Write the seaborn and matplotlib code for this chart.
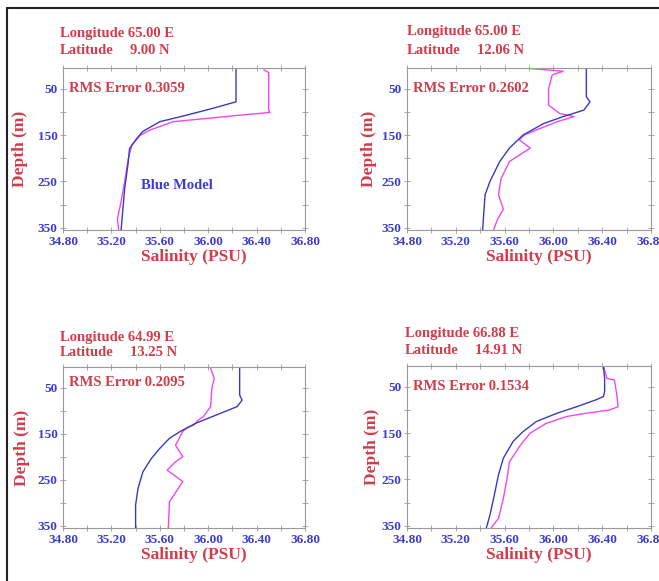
import numpy as np
import pandas as pd
import matplotlib
matplotlib.use('Agg')
import matplotlib.pyplot as plt
from matplotlib.lines import Line2D
from matplotlib.ticker import MultipleLocator, FixedLocator
import seaborn as sns

sns.set_theme(style='white')
plt.rcParams['font.family'] = ['Liberation Serif', 'DejaVu Serif']
plt.rcParams['font.weight'] = 'bold'

RED = '#d23c4b'
BLUE = '#3c3cd2'
MODEL = '#3a3abf'
OBS = '#f048f0'

# station info
lons = ['65.00 E', '65.00 E', '64.99 E', '66.88 E']
lats = ['9.00 N', '12.06 N', '13.25 N', '14.91 N']
rms = ['0.3059', '0.2602', '0.2095', '0.1534']

# model profiles (salinity, depth)
model_sal = [
    [36.23, 36.23, 36.04, 35.82, 35.60, 35.46, 35.41, 35.35, 35.34, 35.31, 35.28],
    [36.27, 36.27, 36.30, 36.25, 36.08, 35.92, 35.75, 35.64, 35.56, 35.48, 35.44, 35.43, 35.42],
    [36.26, 36.26, 36.28, 36.24, 36.07, 35.90, 35.77, 35.68, 35.60, 35.53, 35.46, 35.42, 35.40, 35.40],
    [36.41, 36.42, 36.42, 36.41, 36.35, 36.19, 36.03, 35.86, 35.75, 35.67, 35.59, 35.55, 35.51, 35.48, 35.45],
]
model_dep = [
    [5, 78, 92, 107, 121, 142, 157, 179, 207, 265, 355],
    [5, 67, 78, 96, 110, 125, 150, 178, 207, 250, 279, 315, 355],
    [5, 66, 77, 91, 109, 127, 145, 160, 182, 204, 233, 269, 305, 355],
    [5, 32, 60, 71, 78, 93, 107, 125, 147, 168, 204, 240, 291, 327, 355],
]

# observed profiles (salinity, depth)
obs_sal = [
    [36.46, 36.50, 36.50, 36.51, 36.26, 35.71, 35.52, 35.44, 35.37, 35.34, 35.31, 35.28, 35.25, 35.26],
    [35.59, 35.76, 36.08, 35.99, 35.96, 35.96, 36.05, 36.17, 36.03, 35.86, 35.76, 35.72, 35.81,
     35.64, 35.57, 35.55, 35.59, 35.54, 35.51],
    [36.02, 36.05, 36.03, 36.02, 35.96, 35.92, 35.88, 35.82, 35.79, 35.73, 35.79, 35.73, 35.66,
     35.79, 35.68, 35.67],
    [36.41, 36.44, 36.50, 36.52, 36.53, 36.46, 36.27, 36.11, 35.94, 35.81, 35.73, 35.64, 35.62,
     35.59, 35.55, 35.49],
]
obs_dep = [
    [9, 15, 96, 101, 107, 121, 139, 150, 171, 200, 250, 294, 330, 355],
    [5, 5, 12, 20, 50, 85, 103, 110, 121, 139, 150, 160, 178, 207, 245, 279, 310, 333, 355],
    [8, 30, 51, 91, 113, 120, 131, 138, 145, 175, 200, 211, 229, 254, 298, 355],
    [5, 32, 35, 68, 93, 100, 107, 114, 129, 150, 176, 212, 248, 291, 334, 355],
]

W, H = 659, 581
# axes boxes in pixels: left, right, top, bottom
boxes = [(63, 305, 68, 230), (407, 651, 68, 230), (63, 305, 367, 528), (407, 651, 366, 528)]
head_y = [(33, 50), (32, 50), (338, 353), (333, 350)]
head_x = [60, 407, 60, 405]
rms_y = [89, 88, 383, 387]
ylab_x = [28, 377, 30, 380]

fig = plt.figure(figsize=(W / 100, H / 100), dpi=100)
fig.patch.set_facecolor('white')

for i, (l, r, t, b) in enumerate(boxes):
    ax = fig.add_axes([l / W, 1 - b / H, (r - l) / W, (b - t) / H])
    ax.set_facecolor('white')
    dm = pd.DataFrame({'sal': model_sal[i], 'dep': model_dep[i]})
    do = pd.DataFrame({'sal': obs_sal[i], 'dep': obs_dep[i]})
    sns.lineplot(data=do, x='sal', y='dep', sort=False, estimator=None,
                 color=OBS, lw=1.0, ax=ax)
    sns.lineplot(data=dm, x='sal', y='dep', sort=False, estimator=None,
                 color=MODEL, lw=1.0, ax=ax)
    ax.set_xlim(34.8, 36.8)
    ax.set_ylim(355, 5)
    ax.xaxis.set_major_locator(FixedLocator([34.8, 35.2, 35.6, 36.0, 36.4, 36.8]))
    ax.xaxis.set_minor_locator(MultipleLocator(0.2))
    ax.yaxis.set_major_locator(FixedLocator([50, 150, 250, 350]))
    ax.yaxis.set_minor_locator(MultipleLocator(50))
    ax.set_xticklabels(['34.80', '35.20', '35.60', '36.00', '36.40', '36.80'])
    ax.tick_params(which='both', direction='inout', top=True, right=True,
                   bottom=True, left=True, color='#999999', width=0.6, length=4,
                   labelsize=9.5, labelcolor=BLUE, pad=2)
    for s in ax.spines.values():
        s.set_color('#999999')
        s.set_linewidth(0.8)
    ax.set_xlabel('Salinity (PSU)', color=RED, fontsize=12.5, fontweight='bold')
    ax.set_ylabel('Depth (m)', color=RED, fontsize=12.5, fontweight='bold')
    ax.xaxis.set_label_coords(0.54, -0.115)
    ax.yaxis.set_label_coords((ylab_x[i] - l) / (r - l), 0.5)
    hx = head_x[i]
    fig.text(hx / W, 1 - head_y[i][0] / H, 'Longitude ' + lons[i], color=RED,
             fontsize=10.5, fontweight='bold', va='center', ha='left')
    fig.text(hx / W, 1 - head_y[i][1] / H, 'Latitude', color=RED,
             fontsize=10.5, fontweight='bold', va='center', ha='left')
    fig.text((hx + 70) / W, 1 - head_y[i][1] / H, lats[i], color=RED,
             fontsize=10.5, fontweight='bold', va='center', ha='left')
    fig.text((l + 6) / W, 1 - rms_y[i] / H, 'RMS Error ' + rms[i], color=RED,
             fontsize=10.5, fontweight='bold', va='center', ha='left')
    if i == 0:
        ax.text(35.74, 258, 'Blue Model', color=BLUE, fontsize=10.5,
                fontweight='bold', ha='center', va='center')

# frame lines at the top and left
fig.add_artist(Line2D([7 / W, 1], [1 - 8 / H, 1 - 8 / H], color='#222222', lw=1.5))
fig.add_artist(Line2D([7 / W, 7 / W], [0, 1 - 8 / H], color='#222222', lw=1.5))

fig.savefig('out.png', dpi=100, facecolor='white')
